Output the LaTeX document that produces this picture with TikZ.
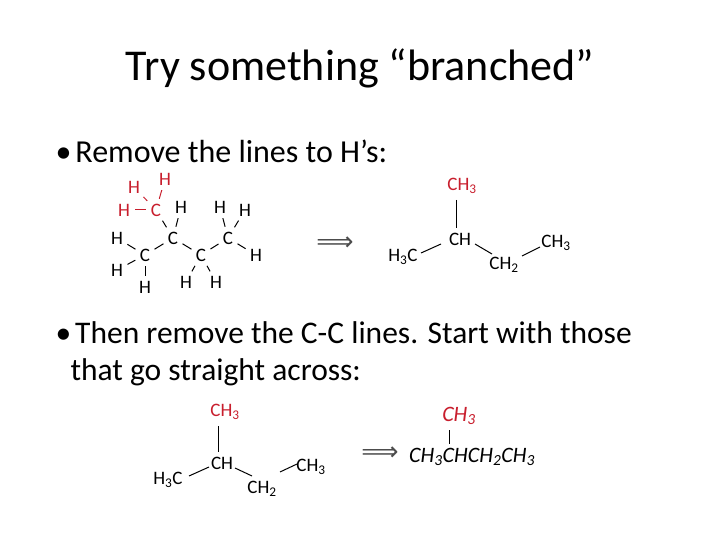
\documentclass[tikz,border=0pt]{standalone}
\usepackage{fontspec}
\setmainfont{Carlito}
\newfontfamily\symf{DejaVu Sans}
\definecolor{redc}{RGB}{200,30,45}
\newcommand{\sbs}[1]{\textsubscript{#1}}
\begin{document}
\begin{tikzpicture}[x=1pt,y=-1pt,
  atom/.style={inner sep=0pt,font=\fontsize{19}{19}\selectfont},
  ratom/.style={atom,text=redc},
  bd/.style={line width=1pt,shorten >=5pt,shorten <=5pt},
  rbd/.style={bd,draw=redc},
  grp/.style={inner sep=0pt,font=\fontsize{19}{19}\selectfont},
  sl/.style={line width=1pt}]
\useasboundingbox (0,0) rectangle (720,540);
\node[font=\fontsize{44}{44}\selectfont] (title) at (360,68) {Try something “branched”};
\node[anchor=west,font=\fontsize{32}{32}\selectfont] (b1) at (52,151) {•\hspace{4pt}Remove the lines to H’s:};
\node[anchor=west,font=\fontsize{31.5}{31.5}\selectfont,align=left] (b2) at (52,354) {•\hspace{4pt}Then remove the C-C lines. Start with those\\[6pt]\hspace{15pt}that go straight across:};
% molecule 1
\node[ratom] (ha) at (134,187) {H};
\node[ratom] (hb) at (165,179) {H};
\node[ratom] (hc) at (124,210) {H};
\node[ratom] (c1) at (156,210) {C};
\node[atom] (h1) at (181,207) {H};
\node[atom] (c2) at (173,238) {C};
\node[atom] (h2) at (220,207) {H};
\node[atom] (h3) at (245,210) {H};
\node[atom] (c4) at (228,238) {C};
\node[atom] (h4) at (117,238) {H};
\node[atom] (c0) at (145,255) {C};
\node[atom] (h5) at (117,270) {H};
\node[atom] (h6) at (145,287) {H};
\node[atom] (c3) at (201,255) {C};
\node[atom] (h7) at (186,282) {H};
\node[atom] (h8) at (216,282) {H};
\node[atom] (h9) at (256,255) {H};
\draw[rbd] (ha)--(c1); \draw[rbd] (hb)--(c1); \draw[rbd] (hc)--(c1);
\draw[bd] (c1)--(c2); \draw[bd] (h1)--(c2); \draw[bd] (c0)--(c2);
\draw[bd] (c2)--(c3); \draw[bd] (c3)--(c4); \draw[bd] (h2)--(c4);
\draw[bd] (h3)--(c4); \draw[bd] (h9)--(c4); \draw[bd] (h4)--(c0);
\draw[bd] (h5)--(c0); \draw[bd] (h6)--(c0); \draw[bd] (h7)--(c3); \draw[bd] (h8)--(c3);
\node[font=\symf\fontsize{26}{26}\selectfont,text=black!70] (ar1) at (335,244) {⟹};
% molecule 2
\node[grp,text=redc] (m1) at (462,186) {CH\sbs{3}};
\node[grp] (m2) at (460,239) {CH};
\node[grp] (m3) at (403,257) {H\sbs{3}C};
\node[grp] (m4) at (504,265) {CH\sbs{2}};
\node[grp] (m5) at (556,243) {CH\sbs{3}};
\coordinate (p1) at (456,200); \coordinate (p2) at (456,228);
\draw[sl] (p1)--(p2);
\coordinate (q1) at (421,253); \coordinate (q2) at (441,244); \draw[sl] (q1)--(q2);
\coordinate (q3) at (475,244); \coordinate (q4) at (492,254); \draw[sl] (q3)--(q4);
\coordinate (q5) at (522,256); \coordinate (q6) at (540,247); \draw[sl] (q5)--(q6);
% molecule 3
\node[grp,text=redc] (n1) at (225,412) {CH\sbs{3}};
\node[grp] (n2) at (222,463) {CH};
\node[grp] (n3) at (168,480) {H\sbs{3}C};
\node[grp] (n4) at (262,489) {CH\sbs{2}};
\node[grp] (n5) at (311,467) {CH\sbs{3}};
\coordinate (r1) at (218,426); \coordinate (r2) at (218,452); \draw[sl] (r1)--(r2);
\coordinate (s1) at (189,476); \coordinate (s2) at (209,467); \draw[sl] (s1)--(s2);
\coordinate (s3) at (235,468); \coordinate (s4) at (252,476); \draw[sl] (s3)--(s4);
\coordinate (s5) at (280,472); \coordinate (s6) at (297,464); \draw[sl] (s5)--(s6);
\node[font=\symf\fontsize{26}{26}\selectfont,text=black!70] (ar2) at (380,454) {⟹};
\node[anchor=west,inner sep=0pt,font=\fontsize{22}{22}\selectfont\itshape] (f) at (409,457) {CH\sbs{3}CHCH\sbs{2}CH\sbs{3}};
\node[inner sep=0pt,text=redc,font=\fontsize{22}{22}\selectfont\itshape] (f2) at (459,416) {CH\sbs{3}};
\coordinate (t1) at (449,430); \coordinate (t2) at (449,444); \draw[sl] (t1)--(t2);
\end{tikzpicture}
\end{document}
